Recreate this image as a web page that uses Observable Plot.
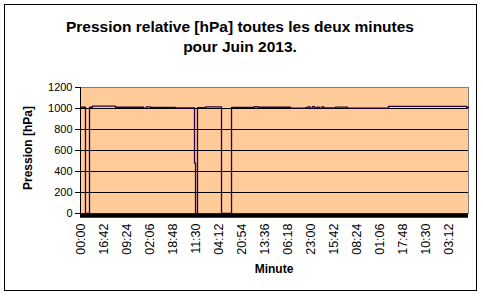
<!DOCTYPE html>
<html>
<head>
<meta charset="utf-8">
<script src="https://cdn.jsdelivr.net/npm/d3@7"></script>
<script src="https://cdn.jsdelivr.net/npm/@observablehq/plot@0.6"></script>
<style>
  body { margin: 0; background: #fff; }
  svg { display: block; }
</style>
</head>
<body>
<div id="chart"></div>
<script>
// Sample index (2-minute records) where the pressure changes, and the value from there on
const sampleIdx = [0, 109, 196, 261, 762, 1372, 1437, 1525, 2069, 2483, 2505, 2548, 2723, 3071, 3289, 3790, 3855, 4574,
  4900, 4950, 5000, 5050, 5100, 5150, 5200, 5250, 5300, 5380, 5554, 5815, 6708, 8407, 8450];
const pressure = [1012, 0, 1012, 1022, 1012, 1004, 1016, 1010, 1005, 480, 0, 1008, 1016, 0, 1010, 1018, 1012, 1003,
  1009, 1016, 1004, 1017, 1006, 1014, 1003, 1015, 1006, 1005, 1013, 1003, 1020, 1012, 1012];

const tickIdx = [0, 501, 1002, 1503, 2004, 2505, 3006, 3507, 4008, 4509, 5010, 5511, 6012, 6513, 7014, 7515, 8016];
const tickLabels = ["00:00", "16:42", "09:24", "02:06", "18:48", "11:30", "04:12", "20:54", "13:36", "06:18",
  "23:00", "15:42", "08:24", "01:06", "17:48", "10:30", "03:12"];
const yTicks = [0, 200, 400, 600, 800, 1000, 1200];
const gridTicks = [200, 400, 600, 800, 1000];

const data = sampleIdx.map((x, i) => ({x, y: pressure[i]}));

const chart = Plot.plot({
  width: 483,
  height: 296,
  marginLeft: 80,
  marginRight: 15,
  marginTop: 87,
  marginBottom: 83,
  style: {fontFamily: "'Liberation Sans', Arial, sans-serif", background: "#fff"},
  x: {domain: [0, 8450]},
  y: {domain: [0, 1200]},
  marks: [
    Plot.frame({fill: "#FFCC99", stroke: null}),
    Plot.gridY(gridTicks, {stroke: "#000", strokeOpacity: 1, strokeWidth: 1}),
    Plot.frame({stroke: "#808080", strokeWidth: 1}),
    Plot.line(data, {x: "x", y: "y", curve: "step-after", stroke: "#2a0040", strokeWidth: 1.3}),
    Plot.ruleY([0], {stroke: "#000", strokeWidth: 4.5, dy: 2}),
    Plot.ruleX([0], {stroke: "#000", strokeWidth: 1}),
    Plot.axisY(yTicks, {tickSize: 5, tickPadding: 3, fontSize: 11, tickFormat: d3.format("d"), label: null}),
    Plot.axisX(tickIdx, {tickFormat: (d) => tickLabels[tickIdx.indexOf(d)], tickRotate: -90, tickSize: 0, tickPadding: 10, fontSize: 12.5, label: null})
  ]
});

const svg = d3.select(chart);
svg.append("rect").attr("x", 4.5).attr("y", 4.5).attr("width", 472).attr("height", 286)
  .attr("fill", "none").attr("stroke", "#000").attr("stroke-width", 1);
const t = svg.append("text").attr("text-anchor", "middle").attr("font-weight", "bold").attr("font-size", 15.5)
  .attr("font-family", "'Liberation Sans', Arial, sans-serif").attr("fill", "#000");
t.append("tspan").attr("x", 240).attr("y", 32).text("Pression relative [hPa] toutes les deux minutes");
t.append("tspan").attr("x", 240).attr("y", 52).text("pour Juin 2013.");
svg.append("text").attr("transform", "translate(32,148) rotate(-90)").attr("text-anchor", "middle")
  .attr("font-weight", "bold").attr("font-size", 12).attr("font-family", "'Liberation Sans', Arial, sans-serif")
  .text("Pression [hPa]");
svg.append("text").attr("x", 274).attr("y", 273).attr("text-anchor", "middle")
  .attr("font-weight", "bold").attr("font-size", 12).attr("font-family", "'Liberation Sans', Arial, sans-serif")
  .text("Minute");

document.getElementById("chart").appendChild(chart);
</script>
</body>
</html>
